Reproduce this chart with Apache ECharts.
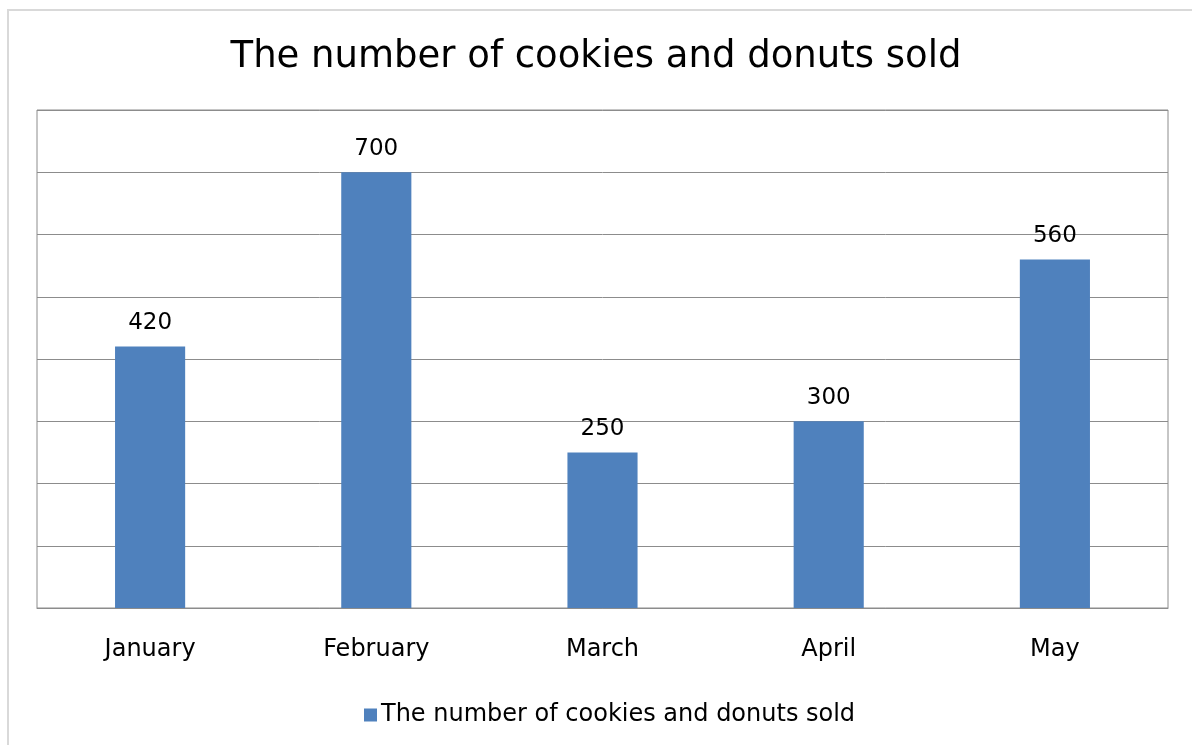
<!DOCTYPE html>
<html>
<head>
<meta charset="utf-8">
<script src="https://cdn.jsdelivr.net/npm/echarts@6/dist/echarts.min.js"></script>
<style>
  html, body { margin: 0; padding: 0; background: #fff; }
  #frame {
    position: absolute; left: 7px; top: 9px; width: 1200px; height: 760px;
    border: 2px solid #d9d9d9; box-sizing: border-box;
  }
  #chart { position: absolute; left: 0; top: 0; width: 1192px; height: 745px; }
</style>
</head>
<body>
<div id="frame"></div>
<div id="chart"></div>
<script>
const titleText = 'The number of cookies and donuts sold'
const months = ['January', 'February', 'March', 'April', 'May']
const sold = [420, 700, 250, 300, 560]

const chart = echarts.init(document.getElementById('chart'))

chart.setOption({
  animation: false,
  textStyle: { fontFamily: 'DejaVu Sans' },
  title: {
    text: titleText,
    left: 'center',
    top: 34,
    textStyle: {
      color: '#000',
      fontFamily: 'DejaVu Sans',
      fontSize: 37,
      fontWeight: 'normal'
    }
  },
  legend: {
    bottom: 13,
    left: 359,
    icon: 'rect',
    itemWidth: 13,
    itemHeight: 13,
    itemGap: 6,
    textStyle: {
      color: '#000',
      fontSize: 24,
      fontFamily: 'DejaVu Sans',
      padding: [0, 0, 0, -1]
    },
    data: [titleText]
  },
  grid: {
    left: 37,
    right: 24,
    top: 110,
    bottom: 137,
    show: true,
    borderColor: '#8c8c8c',
    borderWidth: 1
  },
  xAxis: {
    type: 'category',
    data: months,
    axisLine: { lineStyle: { color: '#8c8c8c' } },
    axisTick: { show: false },
    axisLabel: {
      color: '#000',
      fontSize: 24,
      margin: 30
    }
  },
  yAxis: {
    type: 'value',
    min: 0,
    max: 800,
    interval: 100,
    axisLabel: { show: false },
    axisLine: { show: false },
    axisTick: { show: false },
    splitLine: { lineStyle: { color: '#8c8c8c' } }
  },
  series: [{
    name: titleText,
    type: 'bar',
    data: sold,
    barWidth: '31%',
    itemStyle: { color: '#4f81bd' },
    label: {
      show: true,
      position: 'top',
      distance: 12,
      color: '#000',
      fontSize: 23
    }
  }]
})
</script>
</body>
</html>
